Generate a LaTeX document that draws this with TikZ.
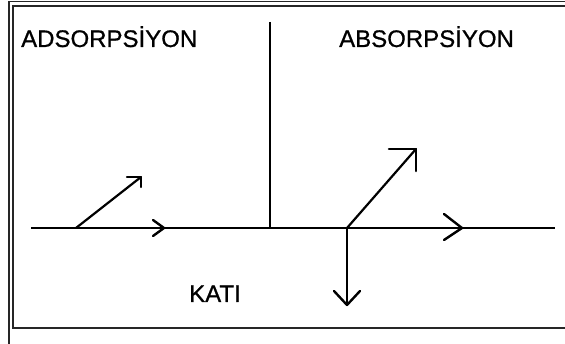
\documentclass[tikz,border=0pt]{standalone}
\usepackage{fontspec}
\setmainfont{Liberation Sans}
\newfontfamily\lblfont[FakeBold=0.8]{Liberation Sans}
\begin{document}
\begin{tikzpicture}[x=1pt,y=-1pt,
  frame/.style={line width=1.6pt,black!85},
  main/.style={line width=2.8pt,black},
  ray/.style={line width=2.2pt,black,line cap=round,line join=round},
  lbl/.style={anchor=base west,inner sep=0pt,font=\lblfont\fontsize{24}{28}\selectfont}]
\useasboundingbox (0,0) rectangle (565,344);
\fill[white] (0,0) rectangle (565,344);
% frames
\draw[frame] (9,1.5) -- (565,1.5);
\draw[frame] (9,1.5) -- (9,344);
\draw[frame] (565,6) -- (13,6) -- (13,328) -- (565,328);
% coordinates
\coordinate (lstart) at (31,228);
\coordinate (lend) at (555,228);
\coordinate (vtop) at (270,22);
\coordinate (vbot) at (270,228);
\coordinate (a1) at (76,228);
\coordinate (a1t) at (141,177);
\coordinate (b1) at (347,228);
\coordinate (b1t) at (416,149);
\coordinate (d1) at (347,305);
\coordinate (c1) at (164,228);
\coordinate (c2) at (462,228);
% main lines
\draw[main] (lstart) -- (lend);
\draw[main] (vtop) -- (vbot);
\draw[main] (b1) -- (d1);
% diagonal rays
\draw[ray] (a1) -- (a1t);
\draw[ray] ([shift={(-14,0)}]a1t) -- (a1t) -- ([shift={(0,10)}]a1t);
\draw[ray] (b1) -- (b1t);
\draw[ray,line width=2.6pt] ([shift={(-27,0)}]b1t) -- (b1t) -- ([shift={(0,22)}]b1t);
% chevrons
\draw[ray,line width=2.4pt] ([shift={(-11,-8)}]c1) -- (c1) -- ([shift={(-11,8)}]c1);
\draw[ray,line width=2.4pt] ([shift={(-18,-14)}]c2) -- (c2) -- ([shift={(-18,12)}]c2);
\draw[ray,line width=2.4pt] ([shift={(-13,-14)}]d1) -- (d1) -- ([shift={(13,-14)}]d1);
% labels
\node[lbl] (ads) at (21,47) {ADSORPSİYON};
\node[lbl] (abs) at (339,47) {ABSORPSİYON};
\node[lbl] (kati) at (189,302) {KATI};
\end{tikzpicture}
\end{document}
